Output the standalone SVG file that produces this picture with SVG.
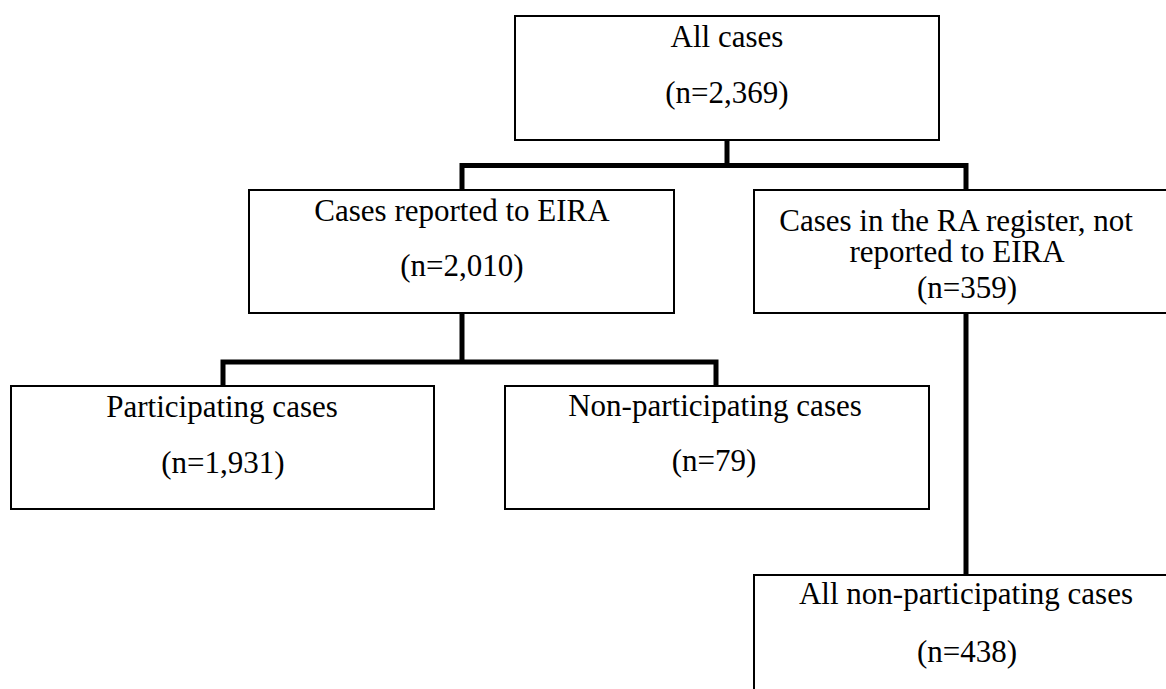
<svg xmlns="http://www.w3.org/2000/svg" width="1166" height="689" viewBox="0 0 1166 689">
<style>
.box{fill:#fff;stroke:#000;stroke-width:2}
.t{font-family:"Liberation Serif","Times New Roman",serif;font-size:31px;fill:#000;text-anchor:middle}
.c{fill:none;stroke:#000;stroke-width:5;stroke-linejoin:miter;stroke-linecap:butt}
</style>
<rect width="1166" height="689" fill="#fff"/>
<g id="connectors">
<path class="c" d="M727,140 V165.5"/>
<path class="c" d="M462,190 V165.5 H966 V190"/>
<path class="c" d="M462,313 V362"/>
<path class="c" d="M223,386 V362 H716 V386"/>
<path class="c" d="M966,313 V575"/>
</g>
<g id="all-cases">
<rect class="box" x="515" y="16" width="424" height="124"/>
<text class="t" x="727" y="47">All cases</text>
<text class="t" x="727" y="103">(n=2,369)</text>
</g>
<g id="reported">
<rect class="box" x="249" y="190" width="425" height="123"/>
<text class="t" x="462" y="221">Cases reported to EIRA</text>
<text class="t" x="462" y="276">(n=2,010)</text>
</g>
<g id="not-reported">
<rect class="box" x="754" y="190" width="430" height="123"/>
<text class="t" x="956" y="231">Cases in the RA register, not</text>
<text class="t" x="957" y="262">reported to EIRA</text>
<text class="t" x="967" y="298">(n=359)</text>
</g>
<g id="participating">
<rect class="box" x="11" y="386" width="423" height="123"/>
<text class="t" x="222" y="417">Participating cases</text>
<text class="t" x="223" y="473">(n=1,931)</text>
</g>
<g id="non-participating">
<rect class="box" x="505" y="386" width="424" height="123"/>
<text class="t" x="715" y="416">Non-participating cases</text>
<text class="t" x="714" y="471">(n=79)</text>
</g>
<g id="all-non-participating">
<rect class="box" x="754" y="575" width="430" height="130"/>
<text class="t" x="966" y="604">All non-participating cases</text>
<text class="t" x="967" y="662">(n=438)</text>
</g>
</svg>
